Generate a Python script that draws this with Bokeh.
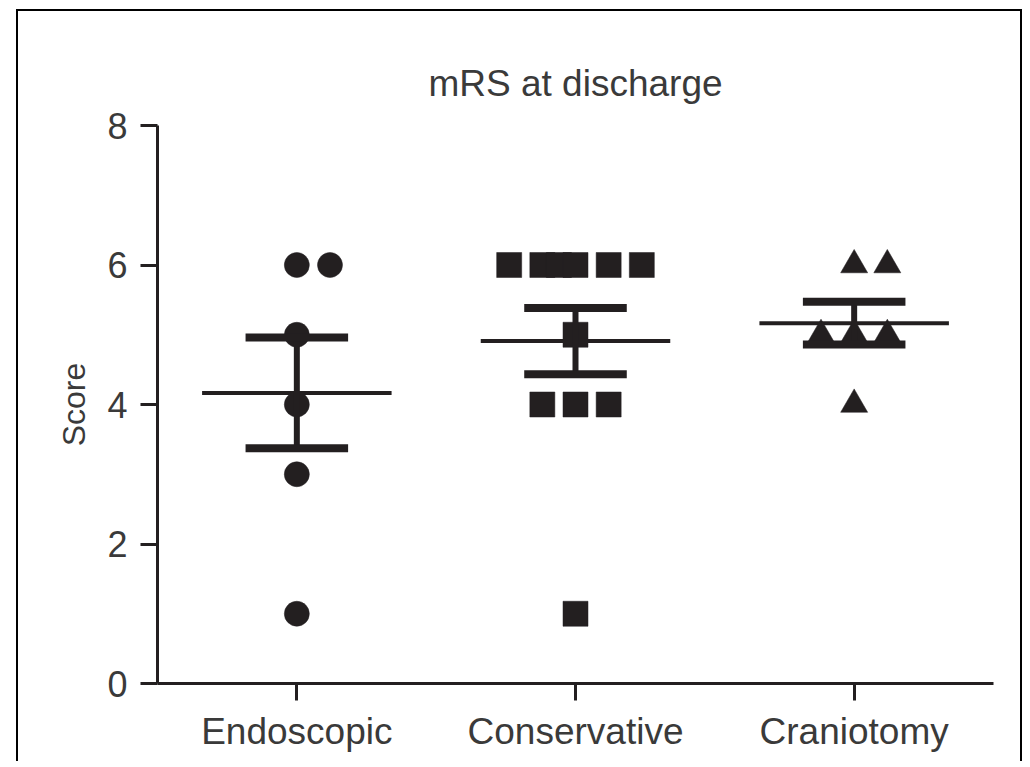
import numpy as np
from bokeh.plotting import figure
from bokeh.models import Range1d, FixedTicker
from bokeh.embed import file_html
from bokeh.resources import INLINE

# ---- data ----
groups = ["Endoscopic", "Conservative", "Craniotomy"]
endoscopic = [6, 6, 5, 4, 3, 1]
conservative = [6, 6, 6, 6, 6, 6, 5, 4, 4, 4, 1]
craniotomy = [6, 6, 5, 5, 5, 4]
markers = ["circle", "square", "triangle"]
y_ticks = [0, 2, 4, 6, 8]
title_text = "mRS at discharge"
y_label = "Score"

INK = "#231f20"
TXT = "#3a3a3a"
FONT = "Liberation Sans"

# horizontal jitter pattern (in point-widths) for n equal values
JITTER = {1: [0], 2: [0, 1], 3: [-1, 0, 1], 6: [-2, -1, -0.5, 0, 1, 2]}
STEP = 0.119

p = figure(width=1002, height=750, output_backend="svg", toolbar_location=None,
           x_range=Range1d(-0.5, 2.5), y_range=Range1d(0, 8),
           frame_width=836, frame_height=558,
           min_border_left=139, min_border_top=114, min_border_right=27, min_border_bottom=78)
p.styles = {"margin-left": "16px", "margin-top": "9px",
            "border-left": "2px solid black", "border-top": "2px solid black",
            "border-right": "2px solid black"}
p.background_fill_color = "white"
p.border_fill_color = "white"
p.outline_line_color = None
p.grid.visible = False

p.title.text = title_text
p.title.align = "center"
p.title.text_font = FONT
p.title.text_font_size = "37px"
p.title.text_font_style = "normal"
p.title.text_color = TXT
p.title.offset = 0
p.title.standoff = 44

for ax in (p.xaxis[0], p.yaxis[0]):
    ax.axis_line_width = 3
    ax.axis_line_color = INK
    ax.major_tick_line_width = 3
    ax.major_tick_line_color = INK
    ax.major_tick_out = 17
    ax.major_tick_in = 0
    ax.minor_tick_line_color = None
    ax.major_label_text_font = FONT
    ax.major_label_text_color = TXT
    ax.major_label_text_font_size = "36px"

p.yaxis.ticker = FixedTicker(ticks=y_ticks)
p.yaxis.major_label_standoff = 13
p.yaxis.axis_label = y_label
p.yaxis.axis_label_text_font = FONT
p.yaxis.axis_label_text_font_size = "32px"
p.yaxis.axis_label_text_font_style = "normal"
p.yaxis.axis_label_text_color = TXT
p.yaxis.axis_label_standoff = 12

p.xaxis.ticker = FixedTicker(ticks=list(range(len(groups))))
p.xaxis.major_label_overrides = {i: g for i, g in enumerate(groups)}
p.xaxis[0].major_label_text_font_size = "37px"
p.xaxis.major_label_standoff = 10

for gi, (vals, mk) in enumerate(zip([endoscopic, conservative, craniotomy], markers)):
    vals = np.asarray(vals, dtype=float)
    xs, ys = [], []
    for v in sorted(set(vals.tolist()), reverse=True):
        n = int((vals == v).sum())
        for off in JITTER[n]:
            xs.append(gi + off * STEP)
            ys.append(v)
    p.scatter(x=xs, y=ys, marker=mk, size=25 if mk != "triangle" else 27,
              fill_color=INK, line_color=INK, line_width=0.5)
    mean = vals.mean()
    sem = vals.std(ddof=1) / np.sqrt(len(vals))
    # mean line
    p.segment(x0=[gi - 0.34], x1=[gi + 0.34], y0=[mean], y1=[mean],
              line_color=INK, line_width=4, line_cap="butt")
    # SEM stem
    p.segment(x0=[gi], x1=[gi], y0=[mean - sem], y1=[mean + sem],
              line_color=INK, line_width=6, line_cap="butt")
    # SEM caps
    p.segment(x0=[gi - 0.184] * 2, x1=[gi + 0.184] * 2, y0=[mean - sem, mean + sem],
              y1=[mean - sem, mean + sem], line_color=INK, line_width=8, line_cap="butt")

open("out.html", "w").write(file_html(p, INLINE))
